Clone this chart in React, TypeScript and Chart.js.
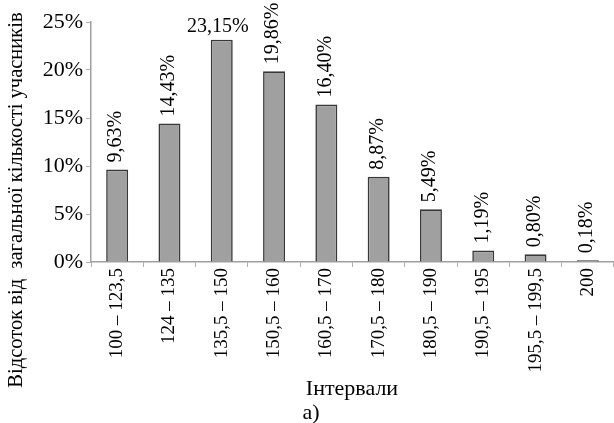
import React, { useEffect, useRef } from "react";
import { Chart, registerables } from "chart.js";

Chart.register(...registerables);

const categories = [
  "100 – 123,5",
  "124 – 135",
  "135,5 – 150",
  "150,5 – 160",
  "160,5 – 170",
  "170,5 – 180",
  "180,5 – 190",
  "190,5 – 195",
  "195,5 – 199,5",
  "200",
];
const values = [9.63, 14.43, 23.15, 19.86, 16.4, 8.87, 5.49, 1.19, 0.8, 0.18];
const yTicks = [0, 5, 10, 15, 20, 25];
const yTitle = "Відсоток від  загальної кількості учасників";
const xTitle = "Інтервали";
const caption = "а)";

const SERIF = "'Liberation Serif', 'DejaVu Serif', serif";

const fmt = (v: number) => v.toFixed(2).replace(".", ",") + "%";

const labelPlugin = {
  id: "labelsAndTitles",
  afterDatasetsDraw(chart: any) {
    const ctx = chart.ctx;
    const meta = chart.getDatasetMeta(0);
    const maxIdx = values.indexOf(Math.max(...values));
    ctx.save();
    ctx.fillStyle = "#000";
    ctx.font = `20px ${SERIF}`;
    meta.data.forEach((el: any, i: number) => {
      const txt = fmt(values[i]);
      if (i === maxIdx) {
        ctx.textAlign = "center";
        ctx.textBaseline = "alphabetic";
        ctx.fillText(txt, el.x - 4, el.y - 8);
      } else {
        ctx.save();
        ctx.translate(el.x - 1, el.y - 7);
        ctx.rotate(-Math.PI / 2);
        ctx.textAlign = "left";
        ctx.textBaseline = "middle";
        ctx.fillText(txt, 0, 0);
        ctx.restore();
      }
    });
    ctx.restore();
  },
  afterDraw(chart: any) {
    const ctx = chart.ctx;
    const area = chart.chartArea;
    ctx.save();
    ctx.fillStyle = "#000";
    // y title
    ctx.save();
    ctx.translate(17, 200);
    ctx.rotate(-Math.PI / 2);
    ctx.font = `20.5px ${SERIF}`;
    ctx.textAlign = "center";
    ctx.textBaseline = "middle";
    ctx.fillText(yTitle, 0, 0);
    ctx.restore();
    // x title
    ctx.font = `22px ${SERIF}`;
    ctx.textAlign = "center";
    ctx.textBaseline = "middle";
    ctx.fillText(xTitle, 352, 389);
    ctx.fillText(caption, 311, 413);
    ctx.restore();
  },
};

export default function App() {
  const ref = useRef<HTMLCanvasElement | null>(null);
  useEffect(() => {
    if (!ref.current) return;
    const chart = new Chart(ref.current, {
      type: "bar",
      data: {
        labels: categories,
        datasets: [
          {
            data: values,
            backgroundColor: "#a0a0a0",
            borderColor: "#383838",
            borderWidth: 1.6,
            barPercentage: 0.42,
            categoryPercentage: 1,
          },
        ],
      },
      options: {
        animation: false,
        responsive: false,
        layout: { padding: { top: 22, right: -2, left: 0, bottom: 0 } },
        plugins: {
          legend: { display: false },
          tooltip: { enabled: false },
        },
        scales: {
          x: {
            grid: {
              display: true,
              drawOnChartArea: false,
              offset: true,
              tickLength: 5,
              color: "#b0b0b0",
            },
            border: { color: "#a0a0a0", width: 1.5 },
            ticks: {
              color: "#000",
              font: { family: SERIF, size: 19 },
              maxRotation: 90,
              minRotation: 90,
              padding: 1,
              autoSkip: false,
            },
            afterFit(scale: any) {
              scale.height = 161;
            },
          },
          y: {
            min: 0,
            max: 25,
            afterBuildTicks(scale: any) {
              scale.ticks = yTicks.map((v) => ({ value: v }));
            },
            grid: {
              display: true,
              drawOnChartArea: false,
              tickLength: 5,
              color: "#b0b0b0",
            },
            border: { color: "#a0a0a0", width: 1.5 },
            ticks: {
              color: "#000",
              font: { family: SERIF, size: 22 },
              padding: 3,
              callback: (v: any) => `${v}%`,
            },
            afterFit(scale: any) {
              scale.width = 91;
            },
          },
        },
      },
      plugins: [labelPlugin],
    });
    return () => chart.destroy();
  }, []);
  return (
    <div style={{ position: "fixed", left: 0, top: 0, width: 614, height: 423, background: "#fff" }}>
      <canvas ref={ref} width={614} height={423} />
    </div>
  );
}
